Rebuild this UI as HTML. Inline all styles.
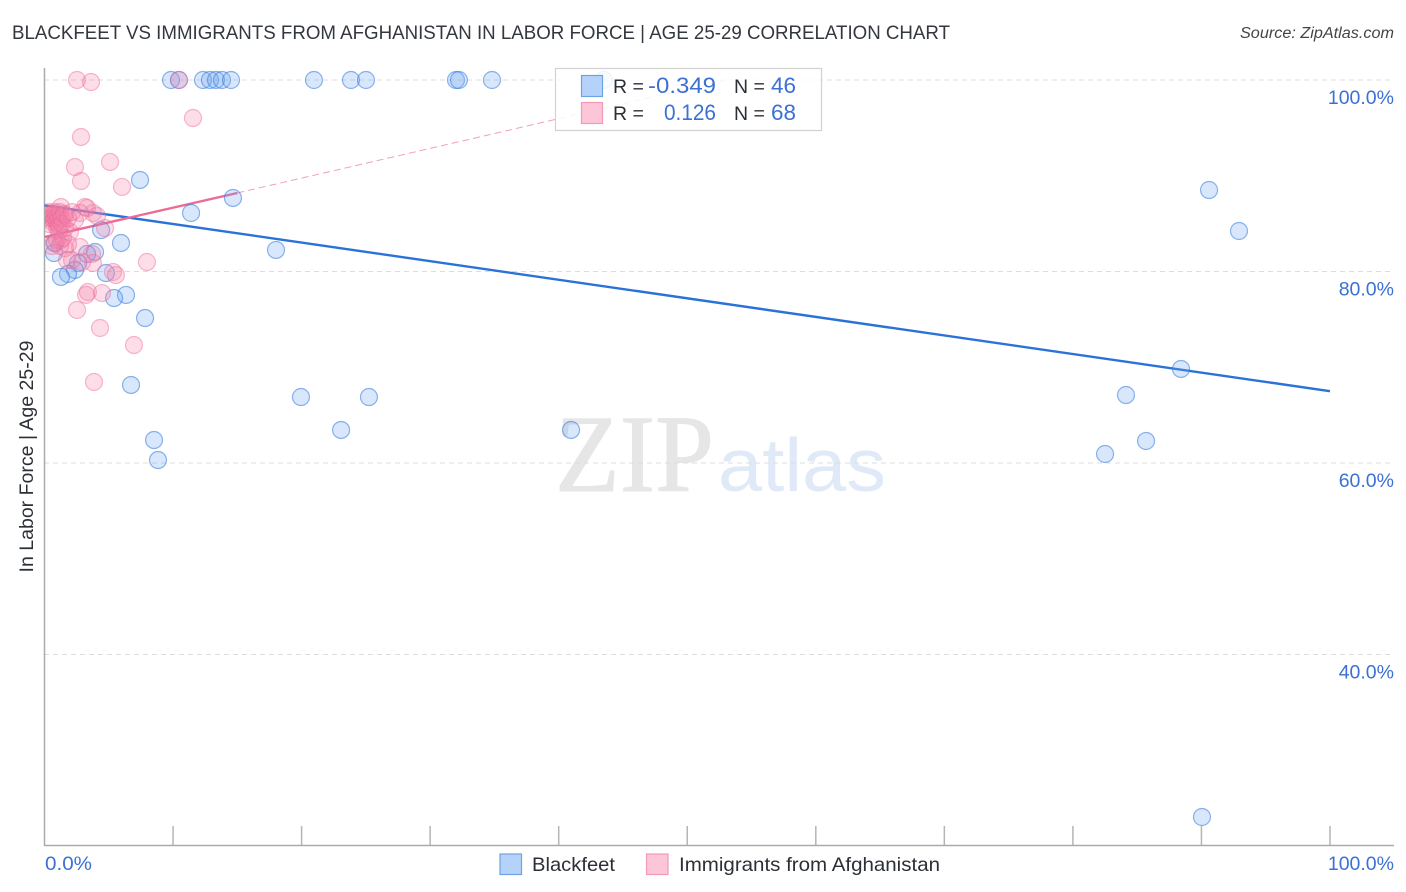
<!DOCTYPE html>
<html lang="en">
<head>
<meta charset="utf-8">
<title>Blackfeet vs Immigrants from Afghanistan in Labor Force | Age 25-29 Correlation Chart</title>
<style>
html,body{margin:0;padding:0;background:#fff;}
svg{display:block;font-family:"Liberation Sans",sans-serif;}
</style>
</head>
<body>
<svg id="chart" xmlns="http://www.w3.org/2000/svg" width="1406" height="892" viewBox="0 0 1406 892">
  <defs><clipPath id="plot-clip"><rect x="45" y="60" width="1349" height="785"/></clipPath></defs>
  <text x="12" y="39" font-size="19.5" fill="#33373e" textLength="938" lengthAdjust="spacingAndGlyphs">BLACKFEET VS IMMIGRANTS FROM AFGHANISTAN IN LABOR FORCE | AGE 25-29 CORRELATION CHART</text>
  <text x="1394" y="38" font-size="15.5" font-style="italic" fill="#444" text-anchor="end" textLength="154" lengthAdjust="spacingAndGlyphs">Source: ZipAtlas.com</text>
  <g>
    <text x="555" y="491" font-family="'Liberation Serif',serif" font-size="110" fill="#e6e6e6" stroke="#e6e6e6" stroke-width="1" textLength="159" lengthAdjust="spacingAndGlyphs">ZIP</text>
    <text x="718" y="491" font-size="75" fill="#dfe9f8" textLength="168" lengthAdjust="spacingAndGlyphs">atlas</text>
  </g>
  <g id="grid"></g>
  <g id="axes"></g>
  <g id="trends"></g>
  <g id="blue-points" clip-path="url(#plot-clip)"></g>
  <g id="pink-points" clip-path="url(#plot-clip)"></g>
  <g>
    <rect x="555.5" y="68.5" width="266" height="62" fill="#fff" fill-opacity="0.85" stroke="#d2d2d2" stroke-width="1.2"/>
    <rect x="581.5" y="75.5" width="21" height="21" fill="#b5d2fa" stroke="#6ea3e3" stroke-width="1.2"/>
    <rect x="581.5" y="102.5" width="21" height="21" fill="#fcc5d8" stroke="#f29ab8" stroke-width="1.2"/>
    <text x="613" y="93" font-size="19.5" fill="#2b2f36">R =</text>
    <text x="716" y="93" font-size="22" fill="#3b70d4" text-anchor="end" textLength="68" lengthAdjust="spacingAndGlyphs">-0.349</text>
    <text x="734" y="93" font-size="19.5" fill="#2b2f36">N =</text>
    <text x="796" y="93" font-size="22" fill="#3b70d4" text-anchor="end" textLength="25" lengthAdjust="spacingAndGlyphs">46</text>
    <text x="613" y="120" font-size="19.5" fill="#2b2f36">R =</text>
    <text x="716" y="120" font-size="22" fill="#3b70d4" text-anchor="end" textLength="52" lengthAdjust="spacingAndGlyphs">0.126</text>
    <text x="734" y="120" font-size="19.5" fill="#2b2f36">N =</text>
    <text x="796" y="120" font-size="22" fill="#3b70d4" text-anchor="end" textLength="25" lengthAdjust="spacingAndGlyphs">68</text>
  </g>
  <text transform="translate(33,456.5) rotate(-90)" font-size="19.5" fill="#2b2f36" text-anchor="middle" textLength="232" lengthAdjust="spacingAndGlyphs">In Labor Force | Age 25-29</text>
  <g>
    <rect x="500" y="854" width="21.5" height="20.5" fill="#b5d2fa" stroke="#6ea3e3" stroke-width="1.2"/>
    <text x="532" y="871" font-size="19.5" fill="#2b2f36" textLength="83" lengthAdjust="spacingAndGlyphs">Blackfeet</text>
    <rect x="646.5" y="854" width="21.5" height="20.5" fill="#fcc5d8" stroke="#f29ab8" stroke-width="1.2"/>
    <text x="679" y="871" font-size="19.5" fill="#2b2f36" textLength="261" lengthAdjust="spacingAndGlyphs">Immigrants from Afghanistan</text>
  </g>
</svg>
<script>
const yTickValues = [100, 80, 60, 40];
const yTickLabels = ["100.0%", "80.0%", "60.0%", "40.0%"];
const xTickValues = [10, 20, 30, 40, 50, 60, 70, 80, 90, 100];
const xEndLabels = ["0.0%", "100.0%"];

const blueX = [9.84,10.46,12.33,12.87,13.34,13.81,14.51,20.96,23.84,25.01,32.01,32.24,34.81,43.52,7.43,11.40,14.66,18.01,90.59,92.92,88.41,84.13,85.69,82.5,90.04,40.96,25.24,19.95,23.07,8.52,8.83,6.73,7.82,6.34,5.41,4.78,5.95,4.40,3.93,3.31,2.61,2.37,1.83,1.28,0.74,0.82];
const blueY = [100,100,100,100,100,100,100,100,100,100,100,100,100,100,89.56,86.11,87.68,82.25,88.51,84.23,69.82,67.10,62.30,60.94,23.03,63.45,66.89,66.89,63.45,62.40,60.31,68.15,75.14,77.55,77.23,79.84,82.98,84.33,82.04,81.83,80.89,80.16,79.74,79.43,81.93,82.98];

const pinkX = [2.53,3.62,10.46,11.55,2.84,2.37,5.10,2.84,6.03,7.97,5.33,5.56,3.38,3.23,4.47,2.53,4.32,6.96,3.85,4.71,4.08,3.77,3.15,3.31,2.76,3.70,3.77,2.76,2.14,1.75,1.59,2.92,0.35,0.35,0.35,1.59,0.50,1.13,1.28,0.60,1.98,0.55,0.62,2.37,0.66,0.72,1.28,0.80,1.59,0.85,1.83,0.90,0.95,1.00,1.05,1.10,1.15,1.20,1.30,1.36,1.52,1.83,2.14,0.74,0.97,0.58,1.21,1.44];
const pinkY = [100,99.79,100,96.03,94.05,90.91,91.44,89.45,88.83,80.99,79.95,79.63,77.86,77.55,77.75,75.98,74.10,72.32,68.46,84.54,85.80,86.11,86.74,86.63,86.11,81.83,80.89,82.56,81.20,81.20,82.45,80.99,86.21,85.59,84.96,84.54,85.90,84.33,86.74,85.59,84.13,86.00,85.17,85.38,85.80,85.38,83.29,86.21,85.90,85.59,82.87,86.00,85.17,84.54,85.80,85.38,84.75,86.21,85.59,84.96,86.00,85.59,86.21,82.98,83.29,82.66,82.66,83.50];

const blueTrendX = [0, 100];
const blueTrendY = [86.9, 67.5];
const pinkTrendX = [0, 15];
const pinkTrendY = [83.6, 88.2];
const pinkDashX = [15, 53];
const pinkDashY = [88.2, 100];

const NS = "http://www.w3.org/2000/svg";
function xScale(v) { return 44.5 + v * 12.855; }
function yScale(v) { return 80 + (100 - v) * 9.575; }
function make(tag, attrs, parent) {
  const el = document.createElementNS(NS, tag);
  for (const k in attrs) el.setAttribute(k, attrs[k]);
  parent.appendChild(el);
  return el;
}

const grid = document.getElementById("grid");
const axes = document.getElementById("axes");

yTickValues.forEach(function (v, i) {
  const line = make("line", {x1: 44, x2: 1393, y1: yScale(v), y2: yScale(v), stroke: "#dcdcdc", "stroke-width": 1, "stroke-dasharray": "5 4"}, grid);
  
  
  const label = make("text", {x: 1394, y: yScale(v) + 24, "font-size": 19.5, fill: "#3b70d4", "text-anchor": "end"}, axes);
  label.textContent = yTickLabels[i];
  
  
});

const yAxis = make("line", {x1: 44.5, x2: 44.5, y1: 68, y2: 846, stroke: "#aaa", "stroke-width": 1.5}, axes);


const xAxis = make("line", {x1: 44, x2: 1394, y1: 845.5, y2: 845.5, stroke: "#aaa", "stroke-width": 1.5}, axes);



xTickValues.forEach(function (v) {
  const tick = make("line", {x1: xScale(v), x2: xScale(v), y1: 826, y2: 845, stroke: "#b5b5b5", "stroke-width": 1.5}, axes);
  
  
});

const xStart = make("text", {x: 45, y: 870, "font-size": 19.5, fill: "#3b70d4", textLength: 47, lengthAdjust: "spacingAndGlyphs"}, axes);
xStart.textContent = xEndLabels[0];


const xEnd = make("text", {x: 1394, y: 870, "font-size": 19.5, fill: "#3b70d4", "text-anchor": "end"}, axes);
xEnd.textContent = xEndLabels[1];



const trends = document.getElementById("trends");
const blueTrend = make("line", {x1: xScale(blueTrendX[0]), y1: yScale(blueTrendY[0]), x2: xScale(blueTrendX[1]), y2: yScale(blueTrendY[1]), stroke: "#2a72d8", "stroke-width": 2.4}, trends);


const pinkTrend = make("line", {x1: xScale(pinkTrendX[0]), y1: yScale(pinkTrendY[0]), x2: xScale(pinkTrendX[1]), y2: yScale(pinkTrendY[1]), stroke: "#ec6a94", "stroke-width": 2.4}, trends);


const pinkDash = make("line", {x1: xScale(pinkDashX[0]), y1: yScale(pinkDashY[0]), x2: xScale(pinkDashX[1]), y2: yScale(pinkDashY[1]), stroke: "#f0a0bb", "stroke-width": 1, "stroke-dasharray": "7 4"}, trends);



const bluePts = document.getElementById("blue-points");
blueX.forEach(function (v, i) {
  const c = make("circle", {cx: xScale(v), cy: yScale(blueY[i]), r: 8.5, fill: "rgba(110,165,240,0.27)", stroke: "rgba(50,120,220,0.55)", "stroke-width": 1.2}, bluePts);
  
  
});

const pinkPts = document.getElementById("pink-points");
pinkX.forEach(function (v, i) {
  const c = make("circle", {cx: xScale(v), cy: yScale(pinkY[i]), r: 8.5, fill: "rgba(245,130,170,0.27)", stroke: "rgba(238,105,150,0.45)", "stroke-width": 1.2}, pinkPts);
  
  
});
</script>
</body>
</html>
